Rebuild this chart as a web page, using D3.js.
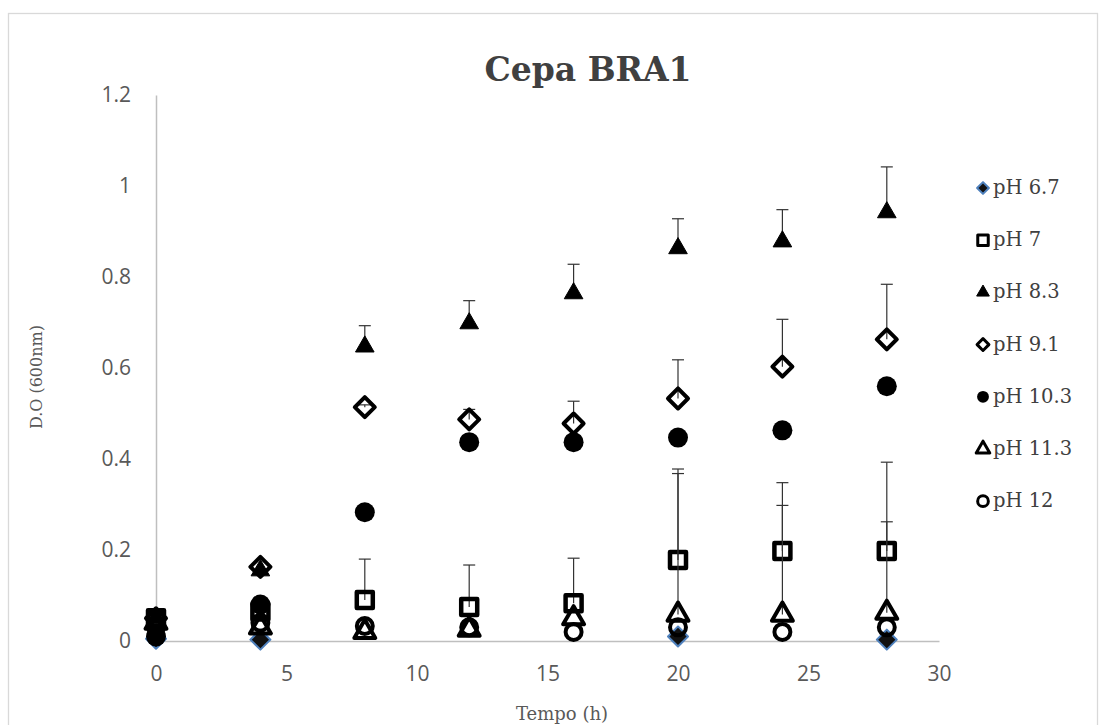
<!DOCTYPE html>
<html>
<head>
<meta charset="utf-8">
<script src="https://cdn.jsdelivr.net/npm/d3@7"></script>
<style>
  body { margin: 0; background: #fff; }
</style>
</head>
<body>
<script>
// time points (h)
var times = [0, 4, 8, 12, 16, 20, 24, 28];

// series labels
var phLabels = ["pH 6.7", "pH 7", "pH 8.3", "pH 9.1", "pH 10.3", "pH 11.3", "pH 12"];

// optical density per series (null = no point shown)
var ph67 = [0.005, 0.003, null, null, null, 0.01, null, 0.003];
var ph7 = [0.05, 0.065, 0.09, 0.075, 0.083, 0.178, 0.198, 0.198];
var ph83 = [0.05, 0.155, 0.647, 0.698, 0.764, 0.863, 0.878, 0.942];
var ph91 = [0.05, 0.163, 0.514, 0.487, 0.478, 0.533, 0.603, 0.663];
var ph103 = [0.01, 0.08, 0.283, 0.437, 0.437, 0.447, 0.463, 0.56];
var ph113 = [0.04, 0.03, 0.02, 0.025, 0.05, 0.058, 0.058, 0.062];
var ph12 = [0.03, 0.04, 0.033, 0.03, 0.02, 0.03, 0.02, 0.03];

// positive error bars
var ph67Err = [0, 0, 0, 0, 0, 0, 0, 0];
var ph7Err = [0, 0, 0.09, 0.092, 0.099, 0.2, 0.15, 0.195];
var ph83Err = [0, 0, 0.046, 0.05, 0.064, 0.065, 0.07, 0.1];
var ph91Err = [0, 0, 0.005, 0.022, 0.049, 0.085, 0.104, 0.121];
var ph103Err = [0, 0, 0, 0, 0, 0, 0, 0];
var ph113Err = [0, 0, 0, 0, 0, 0.31, 0.24, 0.2];
var ph12Err = [0, 0, 0, 0, 0, 0, 0, 0];

// axis ticks
var xTicks = [0, 5, 10, 15, 20, 25, 30];
var yTicks = [0, 0.2, 0.4, 0.6, 0.8, 1, 1.2];

var values = [ph67, ph7, ph83, ph91, ph103, ph113, ph12];
var errors = [ph67Err, ph7Err, ph83Err, ph91Err, ph103Err, ph113Err, ph12Err];

// marker style for each series
var markers = [
  {type: d3.symbolSquare, size: 200, rotate: 45, fill: "#111", stroke: "#4f81bd", sw: 2},
  {type: d3.symbolSquare, size: 256, rotate: 0, fill: "none", stroke: "#000", sw: 4.5},
  {type: d3.symbolTriangle, size: 150, rotate: 0, fill: "#000", stroke: "#000", sw: 1},
  {type: d3.symbolSquare, size: 200, rotate: 45, fill: "none", stroke: "#000", sw: 4},
  {type: d3.symbolCircle, size: 314, rotate: 0, fill: "#000", stroke: "#000", sw: 0},
  {type: d3.symbolTriangle, size: 190, rotate: 0, fill: "none", stroke: "#000", sw: 4},
  {type: d3.symbolCircle, size: 200, rotate: 0, fill: "none", stroke: "#000", sw: 4}
];
var legendSizes = [70, 110, 70, 70, 110, 80, 90];

var w = 1106, h = 725;
var margin = {left: 156, right: 167, top: 95, bottom: 84};

var svg = d3.select("body").append("svg")
  .attr("width", w)
  .attr("height", h);

// chart border
svg.append("rect")
  .attr("x", 8.5).attr("y", 13.5)
  .attr("width", 1089).attr("height", 740)
  .attr("fill", "#fff")
  .attr("stroke", "#d9d9d9")
  .attr("stroke-width", 1.3);

var xScale = d3.scaleLinear().domain([0, 30]).range([margin.left, w - margin.right]);
var yScale = d3.scaleLinear().domain([0, 1.2]).range([h - margin.bottom, margin.top]);

// title
svg.append("text")
  .attr("x", 588).attr("y", 81)
  .attr("text-anchor", "middle")
  .style("font-family", "'DejaVu Serif', serif")
  .style("font-weight", "bold")
  .style("font-size", "33px")
  .attr("fill", "#404040")
  .text("Cepa BRA1");

// axes
var xAxis = d3.axisBottom(xScale).tickValues(xTicks).tickSize(0).tickPadding(36)
  .tickFormat(d3.format("d"));
var yAxis = d3.axisLeft(yScale).tickValues(yTicks).tickSize(0).tickPadding(25)
  .tickFormat(function(d) { return d === 0 ? "0" : (d === 1 ? "1" : d3.format(".1f")(d)); });

var gx = svg.append("g")
  .attr("transform", "translate(0," + yScale(0) + ")")
  .call(xAxis);
var gy = svg.append("g")
  .attr("transform", "translate(" + xScale(0) + ",0)")
  .call(yAxis);

[gx, gy].forEach(function(g) {
  g.select(".domain").attr("stroke", "#bfbfbf").attr("stroke-width", 1.5);
  g.selectAll("text")
    .style("font-family", "'Open Sans', sans-serif")
    .style("font-size", "21px")
    .attr("fill", "#595959");
});
gx.selectAll("text").attr("dy", "0.2em");

// axis titles
svg.append("text")
  .attr("transform", "translate(42," + yScale(0.58) + ") rotate(-90)")
  .attr("text-anchor", "middle")
  .style("font-family", "'DejaVu Serif', serif")
  .style("font-size", "16px")
  .attr("fill", "#595959")
  .text("D.O (600nm)");

svg.append("text")
  .attr("x", 562).attr("y", 720)
  .attr("text-anchor", "middle")
  .style("font-family", "'DejaVu Serif', serif")
  .style("font-size", "18px")
  .attr("fill", "#595959")
  .text("Tempo (h)");

// error bars + markers, drawn series by series
values.forEach(function(vals, i) {
  var g = svg.append("g");
  var pts = times.map(function(t, j) { return {t: t, v: vals[j], e: errors[i][j]}; })
    .filter(function(d) { return d.v !== null; });
  var errData = pts.filter(function(d) { return d.e > 0; });

  g.selectAll("line.err")
    .data(errData)
    .enter().append("line")
    .attr("x1", function(d) { return xScale(d.t); })
    .attr("x2", function(d) { return xScale(d.t); })
    .attr("y1", function(d) { return yScale(d.v); })
    .attr("y2", function(d) { return yScale(d.v + d.e); })
    .attr("stroke", "#333").attr("stroke-width", 1.2);

  g.selectAll("line.cap")
    .data(errData)
    .enter().append("line")
    .attr("x1", function(d) { return xScale(d.t) - 6; })
    .attr("x2", function(d) { return xScale(d.t) + 6; })
    .attr("y1", function(d) { return yScale(d.v + d.e); })
    .attr("y2", function(d) { return yScale(d.v + d.e); })
    .attr("stroke", "#333").attr("stroke-width", 1.2);

  var m = markers[i];
  g.selectAll("path")
    .data(pts)
    .enter().append("path")
    .attr("d", d3.symbol().type(m.type).size(m.size))
    .attr("transform", function(d) {
      return "translate(" + xScale(d.t) + "," + yScale(d.v) + ") rotate(" + m.rotate + ")";
    })
    .attr("fill", m.fill)
    .attr("stroke", m.stroke)
    .attr("stroke-width", m.sw)
    .attr("stroke-linejoin", "round");
});

// legend
var legend = svg.append("g");
phLabels.forEach(function(lbl, i) {
  var y = 188 + i * 52.2;
  var m = markers[i];
  legend.append("path")
    .attr("d", d3.symbol().type(m.type).size(legendSizes[i]))
    .attr("transform", "translate(983," + y + ") rotate(" + m.rotate + ")")
    .attr("fill", m.fill)
    .attr("stroke", m.stroke)
    .attr("stroke-width", Math.min(m.sw, 3))
    .attr("stroke-linejoin", "round");
  legend.append("text")
    .attr("x", 993).attr("y", y + 6)
    .style("font-family", "'DejaVu Serif', serif")
    .style("font-size", "19.5px")
    .attr("fill", "#404040")
    .text(lbl);
});
</script>
</body>
</html>
